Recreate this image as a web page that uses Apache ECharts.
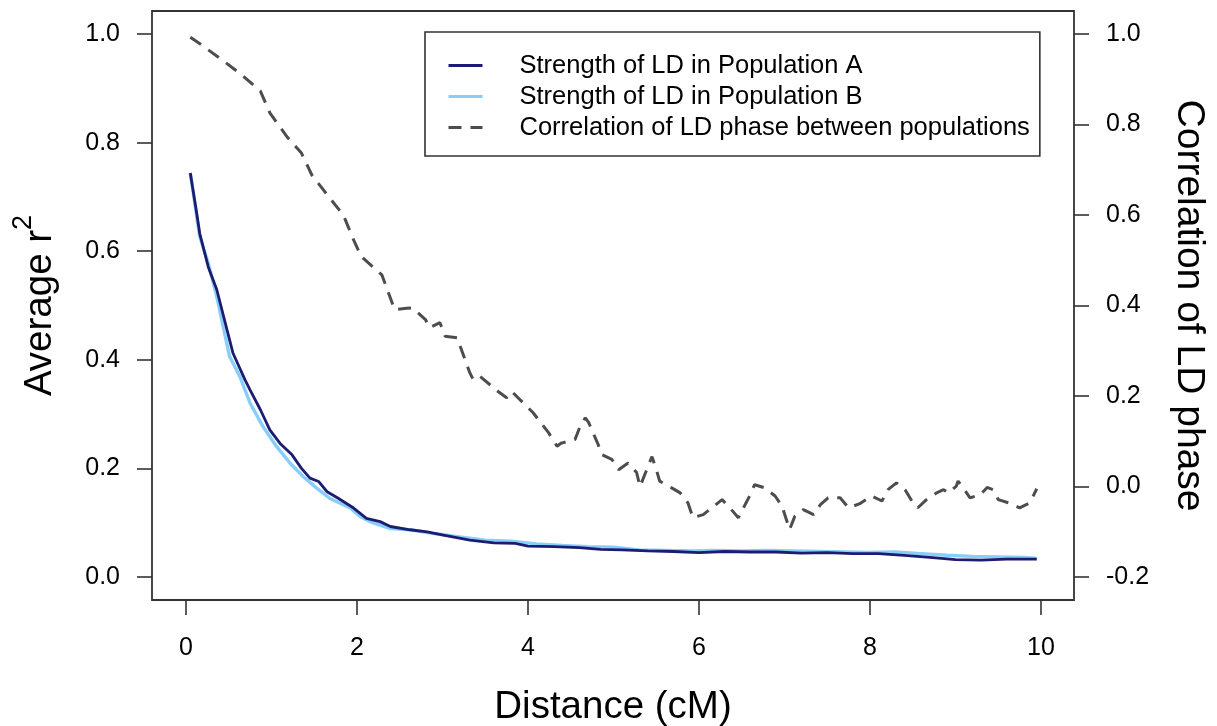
<!DOCTYPE html>
<html><head><meta charset="utf-8">
<script src="https://cdn.jsdelivr.net/npm/echarts@6/dist/echarts.min.js"></script>
<style>html,body{margin:0;padding:0;background:#fff}#c{width:1217px;height:726px}</style>
</head><body><div id="c"></div>
<script>
// ---- data ----
const seriesNames = ['Strength of LD in Population A', 'Strength of LD in Population B', 'Correlation of LD phase between populations'];

const distA = [0.05,0.125,0.16,0.26,0.36,0.46,0.55,0.69,0.75,0.87,0.98,1.10,1.24,1.35,1.45,1.55,1.65,1.78,1.96,2.11,2.27,2.39,2.62,2.82,3.01,3.32,3.6,3.85,4.0,4.3,4.6,4.85,5.1,5.4,5.7,6.0,6.3,6.6,6.9,7.2,7.5,7.8,8.1,8.4,8.7,9.0,9.3,9.6,9.95];
const ldA   = [0.744,0.67,0.633,0.571,0.529,0.467,0.412,0.363,0.344,0.308,0.271,0.246,0.225,0.200,0.182,0.176,0.157,0.145,0.127,0.108,0.102,0.093,0.087,0.083,0.077,0.068,0.063,0.062,0.057,0.056,0.054,0.051,0.050,0.048,0.047,0.045,0.047,0.046,0.046,0.044,0.045,0.043,0.043,0.040,0.036,0.032,0.031,0.033,0.033];

const distB = [0.05,0.16,0.26,0.36,0.51,0.63,0.75,0.90,1.06,1.22,1.37,1.51,1.68,1.92,2.04,2.15,2.39,2.62,2.9,3.2,3.5,3.8,4.1,4.4,4.7,5.0,5.3,5.6,5.9,6.2,6.5,6.8,7.1,7.4,7.7,8.0,8.3,8.6,8.9,9.2,9.5,9.8,9.95];
const ldB   = [0.744,0.627,0.578,0.516,0.406,0.369,0.320,0.277,0.240,0.209,0.185,0.166,0.145,0.127,0.111,0.102,0.089,0.087,0.080,0.074,0.068,0.066,0.061,0.058,0.056,0.055,0.050,0.049,0.048,0.049,0.048,0.049,0.048,0.047,0.046,0.045,0.046,0.043,0.040,0.038,0.037,0.036,0.034];

const distPhase = [0.05,0.18,0.42,0.65,0.87,0.98,1.18,1.35,1.47,1.65,1.84,1.96,2.05,2.29,2.44,2.58,2.65,2.80,2.85,2.97,3.03,3.17,3.32,3.36,3.44,3.65,3.75,3.81,4.06,4.24,4.34,4.39,4.55,4.61,4.67,4.71,4.82,4.86,4.98,5.06,5.17,5.27,5.31,5.39,5.45,5.50,5.54,5.68,5.78,5.87,5.93,6.05,6.27,6.36,6.46,6.60,6.65,6.77,6.89,6.97,7.06,7.12,7.22,7.34,7.42,7.51,7.65,7.75,7.88,8.02,8.14,8.21,8.31,8.41,8.49,8.56,8.66,8.78,8.86,8.92,9.01,9.03,9.09,9.17,9.29,9.37,9.44,9.50,9.62,9.75,9.87,9.95];
const phaseCorr = [0.993,0.976,0.943,0.910,0.874,0.826,0.773,0.737,0.689,0.645,0.600,0.545,0.508,0.468,0.391,0.394,0.395,0.369,0.351,0.362,0.332,0.329,0.251,0.236,0.243,0.210,0.196,0.210,0.163,0.119,0.089,0.096,0.104,0.133,0.152,0.141,0.093,0.071,0.060,0.037,0.052,0.031,0.000,0.038,0.066,0.038,0.012,-0.003,-0.014,-0.036,-0.069,-0.062,-0.029,-0.047,-0.069,-0.018,0.004,-0.003,-0.021,-0.043,-0.095,-0.066,-0.051,-0.062,-0.040,-0.025,-0.025,-0.047,-0.038,-0.021,-0.032,-0.007,0.008,-0.007,-0.032,-0.047,-0.029,-0.014,-0.007,-0.014,0.001,0.012,-0.003,-0.025,-0.018,-0.002,-0.007,-0.029,-0.036,-0.047,-0.036,-0.005];

const xTicks = [0, 2, 4, 6, 8, 10];
const leftTicks = [0, 0.2, 0.4, 0.6, 0.8, 1.0];
const rightTicks = [-0.2, 0, 0.2, 0.4, 0.6, 0.8, 1.0];

// ---- chart ----
const FONT = '"Liberation Sans", Arial, Helvetica, sans-serif';
const zip = (xs, ys) => xs.map((x, i) => [x, ys[i]]);
const chart = echarts.init(document.getElementById('c'), null, {renderer: 'canvas'});

const tickStyle = {lineStyle: {color: '#333', width: 1.6}, length: 15, inside: false};
const labelStyle = {color: '#000', fontSize: 25, fontFamily: FONT};

chart.setOption({
  animation: false,
  backgroundColor: '#fff',
  textStyle: {fontFamily: FONT},
  grid: {left: 152, top: 11, width: 922, height: 589, show: true, borderColor: '#333', borderWidth: 1.8, backgroundColor: 'transparent', containLabel: false, outerBoundsMode: 'none'},
  legend: {
    orient: 'vertical', left: 425, top: 32,
    data: seriesNames,
    itemWidth: 34, itemHeight: 14, itemGap: 0,
    padding: [18, 10, 13, 22],
    borderColor: '#333', borderWidth: 1.6, borderRadius: 0,
    selectedMode: false,
    itemStyle: {color: 'rgba(0,0,0,0)', borderColor: 'rgba(0,0,0,0)', borderWidth: 0, opacity: 0},
    lineStyle: {width: 3},
    textStyle: {fontSize: 25.5, lineHeight: 31, color: '#000', fontFamily: FONT, padding: [0, 0, 0, 32]}
  },
  xAxis: {
    type: 'value', min: -0.398, max: 10.386,
    name: 'Distance (cM)', nameLocation: 'middle', nameGap: 88,
    nameTextStyle: {fontSize: 38.5, color: '#000', fontFamily: FONT},
    axisLine: {show: false, onZero: false},
    axisTick: Object.assign({show: true, customValues: xTicks}, tickStyle),
    axisLabel: Object.assign({customValues: xTicks, margin: 36, formatter: v => String(v)}, labelStyle),
    splitLine: {show: false}
  },
  yAxis: [{
    type: 'value', position: 'left', min: -0.04236, max: 1.0424,
    name: '{a|Average r}{b|2}', nameLocation: 'middle', nameGap: 92, nameRotate: 90,
    nameTextStyle: {color: '#000', fontFamily: FONT, rich: {
      a: {fontSize: 38.5, fontFamily: FONT, color: '#000', verticalAlign: 'bottom', lineHeight: 50},
      b: {fontSize: 27, fontFamily: FONT, color: '#000', verticalAlign: 'top', lineHeight: 50}
    }},
    axisLine: {show: false, onZero: false},
    axisTick: Object.assign({show: true, customValues: leftTicks}, tickStyle),
    axisLabel: Object.assign({customValues: leftTicks, margin: 32, formatter: v => v.toFixed(1)}, labelStyle),
    splitLine: {show: false}
  }, {
    type: 'value', position: 'right', min: -0.2508, max: 1.0509,
    name: 'Correlation of LD phase', nameLocation: 'middle', nameGap: 95, nameRotate: -90,
    nameTextStyle: {fontSize: 39, color: '#000', fontFamily: FONT},
    axisLine: {show: false, onZero: false},
    axisTick: Object.assign({show: true, customValues: rightTicks}, tickStyle),
    axisLabel: Object.assign({customValues: rightTicks, margin: 32, formatter: v => v.toFixed(1)}, labelStyle),
    splitLine: {show: false}
  }],
  series: [{
    name: seriesNames[0], type: 'line', yAxisIndex: 0, data: zip(distA, ldA),
    showSymbol: false, symbol: 'none', smooth: false,
    lineStyle: {color: '#1c1c70', width: 2.8}, itemStyle: {color: '#1c1c70'}, z: 3
  }, {
    name: seriesNames[1], type: 'line', yAxisIndex: 0, data: zip(distB, ldB),
    showSymbol: false, symbol: 'none', smooth: false,
    lineStyle: {color: '#87cefa', width: 3.4}, itemStyle: {color: '#87cefa'}, z: 2
  }, {
    name: seriesNames[2], type: 'line', yAxisIndex: 1, data: zip(distPhase, phaseCorr),
    showSymbol: false, symbol: 'none', smooth: false,
    lineStyle: {color: '#4d4d4d', width: 3, type: [13, 9]}, itemStyle: {color: '#4d4d4d'}, z: 4
  }]
});
</script>
</body></html>
